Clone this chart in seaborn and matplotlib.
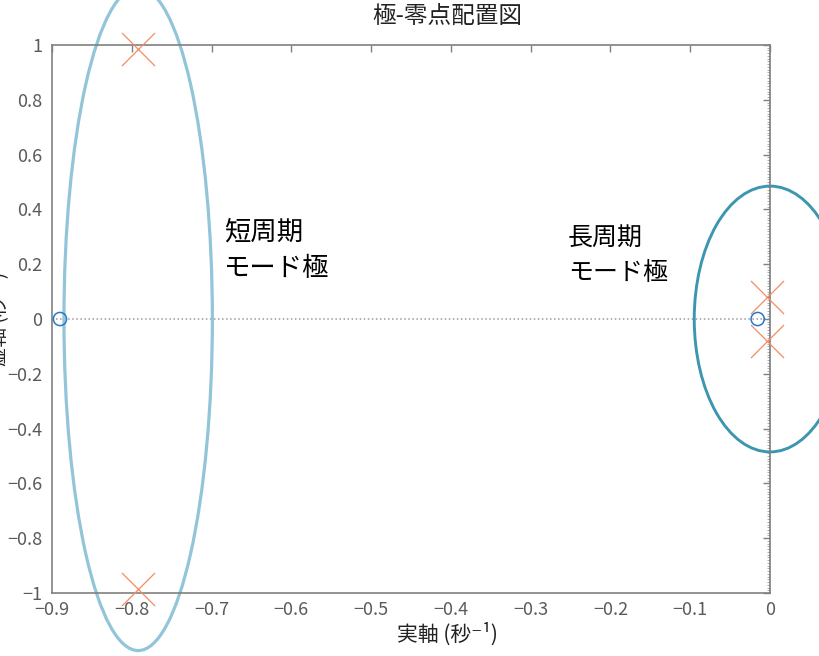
import matplotlib
matplotlib.use('Agg')
import matplotlib.pyplot as plt
from matplotlib.patches import Ellipse
from matplotlib.ticker import MultipleLocator
import seaborn as sns
import pandas as pd

# pole / zero locations
pole_re = [-0.792, -0.792, -0.0038, -0.0038]
pole_im = [0.985, -0.985, 0.081, -0.081]
zero_re = [-0.890, -0.0155]
zero_im = [0.0, 0.0]

x_ticks = [-0.9, -0.8, -0.7, -0.6, -0.5, -0.4, -0.3, -0.2, -0.1, 0]
y_ticks = [-1, -0.8, -0.6, -0.4, -0.2, 0, 0.2, 0.4, 0.6, 0.8, 1]

poles = pd.DataFrame({'re': pole_re, 'im': pole_im})
zeros = pd.DataFrame({'re': zero_re, 'im': zero_im})

sns.set_style('white')
plt.rcParams['font.family'] = ['Noto Sans CJK JP', 'DejaVu Sans']
plt.rcParams['axes.unicode_minus'] = True

fig = plt.figure(figsize=(8.19, 6.56), dpi=100)
ax = fig.add_axes([0.0635, 0.0960, 0.8767, 0.8354])

# dotted axis lines
ax.axhline(0, color='#9a9a9a', linestyle=':', linewidth=1.1, zorder=1)
ax.axvline(0, color='#9a9a9a', linestyle=':', linewidth=1.1, zorder=1)

sns.scatterplot(data=poles, x='re', y='im', marker='x', s=566,
                color='#f48c64', linewidth=0.9, ax=ax, zorder=3,
                clip_on=False)
sns.scatterplot(data=zeros, x='re', y='im', marker='o', s=90,
                facecolor='none', edgecolor='#2878c8', linewidth=1.1,
                ax=ax, zorder=3, clip_on=False)

# grouping ellipses (drawn past the axes edge like the original)
ax.add_patch(Ellipse((-0.792, 0), 0.186, 2.42, fill=False,
                     edgecolor='#92c5d8', linewidth=2.3, clip_on=False, zorder=2))
ax.add_patch(Ellipse((0.0, 0), 0.19, 0.97, fill=False,
                     edgecolor='#3c96af', linewidth=2.1, clip_on=False, zorder=2))

ax.text(-0.6844, 0.252, '短周期\nモード極', fontsize=19, va='center',
        ha='left', color='black', linespacing=1.45)
ax.text(-0.2532, 0.230, '長周期\nモード極', fontsize=18, va='center',
        ha='left', color='black', linespacing=1.4)

ax.set_xlim(-0.9, 0)
ax.set_ylim(-1, 1)
ax.set_xticks(x_ticks)
ax.set_yticks(y_ticks)
ax.set_xticklabels([f'{v:g}'.replace('-', '\u2212') for v in x_ticks])
ax.set_yticklabels([f'{v:g}'.replace('-', '\u2212') for v in y_ticks])

ax.tick_params(direction='in', length=5, width=1, color='#808080',
               labelcolor='#5a5a5a', labelsize=13, top=True, right=True)
ax.tick_params(axis='x', pad=6)
ax.tick_params(axis='y', pad=7)
ax.yaxis.set_minor_locator(MultipleLocator(0.01))
ax.tick_params(axis='y', which='minor', direction='in', length=2,
               color='#a0a0a0', left=False, right=True)

for sp in ax.spines.values():
    sp.set_color('#808080')
    sp.set_linewidth(1.2)

ax.set_title('極-零点配置図', fontsize=17, color='#222222',
             x=(447 - 52) / 718, y=1 + (45 - 31) / 548, va='baseline')
ax.set_xlabel('実軸 (秒⁻¹)', fontsize=15, color='#222222')
ax.xaxis.label.set_va('baseline')
ax.xaxis.set_label_coords((447 - 52) / 718, -(641 - 593) / 548)
ax.set_ylabel('虚軸 (秒⁻¹)', fontsize=14, color='#222222')
ax.yaxis.set_label_coords(-0.0599, 0.5)

fig.savefig('out.png', dpi=100)
